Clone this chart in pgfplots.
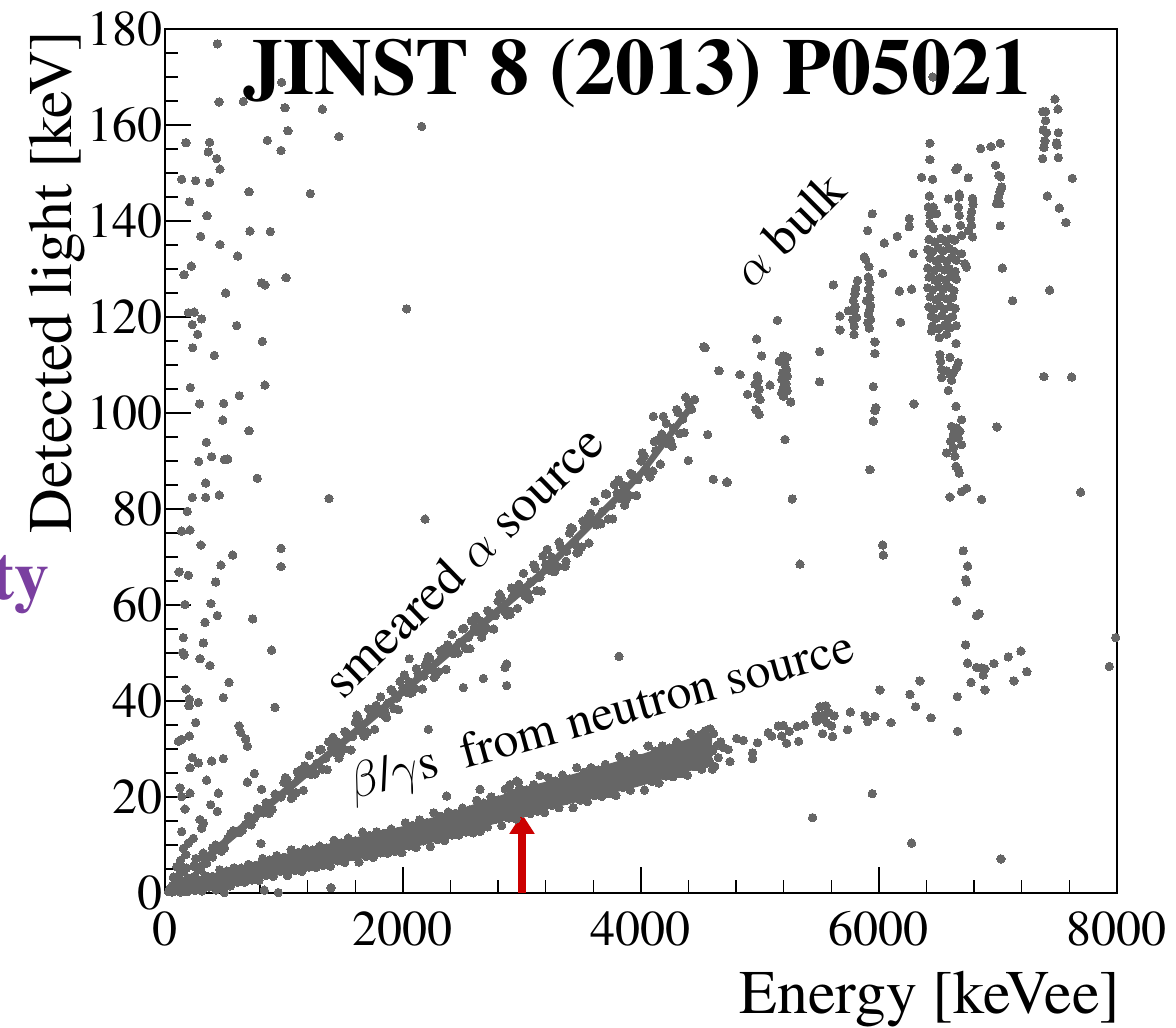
\documentclass[border=0pt]{standalone}
\usepackage{fontspec}
\IfFontExistsTF{TeX Gyre Termes}{\setmainfont{TeX Gyre Termes}}{%
  \IfFontExistsTF{texgyretermes-regular.otf}{\setmainfont{texgyretermes}[Extension=.otf, UprightFont=*-regular, BoldFont=*-bold, ItalicFont=*-italic, BoldItalicFont=*-bolditalic]}{\setmainfont{Liberation Serif}}}
\usepackage{pgfplots}
\pgfplotsset{compat=1.18}
\usetikzlibrary{arrows.meta}
\definecolor{dotgray}{RGB}{102,102,102}
\definecolor{arrred}{RGB}{204,0,0}
\definecolor{lilac}{RGB}{122,63,160}
\begin{document}
\begin{tikzpicture}
\useasboundingbox (-82.5pt,-67pt) rectangle (505.5pt,446.5pt);
\clip (-82.5pt,-67pt) rectangle (505.5pt,446.5pt);
\begin{axis}[
  at={(0pt,0pt)}, anchor=south west,
  scale only axis, width=476pt, height=432pt,
  xmin=0, xmax=8000, ymin=0, ymax=180,
  xtick={0,2000,4000,6000,8000}, ytick={0,20,...,180},
  minor x tick num=4, minor y tick num=3,
  tick pos=left, tick align=inside,
  major tick length=13pt, minor tick length=6.5pt,
  major tick style={black, line width=0.7pt},
  minor tick style={black, line width=0.7pt},
  axis line style={line width=1pt},
  tick label style={font=\fontsize{25}{25}\selectfont},
  /pgf/number format/assume math mode=true,
  /pgf/number format/1000 sep={},
  xticklabel style={anchor=north, inner sep=0pt, yshift=-9pt},
  yticklabel style={anchor=east, inner sep=0pt, xshift=-1pt},
]
% dense core of the beta/gamma band
\addplot[draw=dotgray, fill=dotgray, line width=2pt, line join=round] coordinates {
(40,1.04) (300,2.91) (700,5.67) (1000,7.65) (1500,10.58) (2000,13.5) (2400,16.42) (3000,21.4) (3500,24.83) (4000,28.45) (4500,32.5) (4580,32.7)
(4580,27.6) (4500,26.5) (4000,22.75) (3500,19.58) (3000,16.6) (2400,11.98) (2000,9.3) (1500,6.83) (1000,4.35) (700,2.73) (300,0.69) (40,0.1)};
% dense core of the smeared alpha band
\addplot[draw=dotgray, fill=dotgray, line width=1.5pt, line join=round] coordinates {
(300,6.9) (1000,21.6) (2000,42.6) (3150,66.8) (3990,87.7) (4430,102.2)
(4430,101.0) (3990,86.5) (3150,65.6) (2000,41.4) (1000,20.4) (300,5.7)};
% all events
\addplot[only marks, mark=*, mark size=2.1pt, mark options={draw=dotgray, fill=dotgray, line width=0pt}] coordinates {
(440,176.9) (980,168.9) (454,164.8) (658,164.9) (1008,163.6) (1322,163.3) (2157,159.7) (1033,158.8) (860,156.8) (1462,157.6) (176,156.3) (375,156.4) (364,154.4) (975,154.7) (434,153) (462,150.8) (140,148.7) (258,148.4) (375,148) (706,146.1) (1221,145.7) (207,144) (353,141.1) (714,137.9) (885,137.8) (300,136.8) (462,135.1) (611,132.7) (221,130.6) (160,128.8) (1017,128.2) (812,127.1) (840,126.7) (510,125) (2031,121.7) (196,120.9) (246,121) (308,119.6) (229,118.4) (602,118.2) (275,116.4) (818,114.9) (233,113.6) (414,112) (213,105.3) (840,105.8) (624,103.6) (291,101.9) (493,102) (485,98.5) (706,96.3) (347,93.9) (392,90.9) (283,89.9) (498,90.3) (527,90.4)
(775,86.4) (342,85.4) (229,82.4) (342,82.4) (456,82.9) (1378,82.2) (2185,77.9) (187,79.5) (140,75.4) (210,75.6) (302,72.5) (569,70.4) (975,71.8) (975,68) (118,66.9) (196,66.2) (470,68.3) (426,64.8) (168,60.1) (386,60.3) (440,57.8) (336,56.4) (737,57.1) (154,53.2) (149,50.1) (160,49.6) (322,52.1) (294,48.8) (378,47.4) (896,50.6) (176,42.5) (204,40.4) (202,39) (538,43.9) (490,40.7) (280,39.7) (924,38.7) (258,35.5) (622,34.8) (636,33.5) (678,32.1) (692,30.6) (140,32) (112,31.6) (204,32.7) (229,28.2) (392,27.5) (490,28) (210,26.1) (280,27.1) (751,24.9) (692,23.1) (350,23.5) (126,21.9) (210,20.8) (448,20.8) (140,20.1) (384,18.4) (440,17) (168,17.5) (294,15.3) (140,12.8) (238,11.4) (196,10.4) (154,9.3) (176,8) (126,6.2) (308,13.5) (322,14.6) (834,0.6) (952,0.1) (1395,1.1) (498,0.1) (2213,34.1) (2507,42.8) (2053,48.8) (2185,47.4) (812,21.6) (806,10.3) (2647,12.8) (2955,23.3)
(3815,49.3) (2871,43.2) (2675,44.7) (2871,47.7) (2857,47) (4397,90.1) (4607,86.2) (4720,85.6) (4560,95.5) (4538,113.6) (4655,108.8) (4832,108) (4103,99.3) (4187,99.3) (2899,58) (3025,61.9) (3370,69.1)
(3151,24.5) (2969,23.1) (2367,20.2) (2647,21.6) (2899,22.6)
(40,0.8) (60,1.5) (80,0.5) (90,2.5) (110,1.0) (120,3.8) (150,4.5) (160,0.4) (180,5.2) (200,2) (220,0.8) (250,3.5) (280,1.5) (300,4.8) (340,2.3) (350,6.2) (400,7.5) (130,6.8) (70,3.3) (100,5.5) (60,0.2) (30,0.3) (140,2.2) (190,3.2) (240,5.6) (260,7.2) (320,8.3)
(250,5.75) (300,5.55) (350,7.5) (400,9.4) (450,9.05) (500,9.4) (550,12.3) (600,12.6) (650,13.05) (700,15.95) (750,15.6) (800,17.2) (850,18.85) (900,17.4) (950,20.25) (1000,23.0) (1050,21.25) (1100,20.9) (1150,25.65) (1200,25.2) (1250,25.05) (1300,29.8) (1350,28.05) (1400,30.2) (1450,31.45) (1500,30.0) (1550,32.85) (1600,35.6) (1650,33.85) (1700,33.5) (1750,38.25) (1800,37.8) (1850,37.65) (1900,42.4) (1950,40.65) (2000,42.8) (2050,44.05) (2100,42.6) (2150,45.45) (2200,48.2) (2250,46.45) (2300,46.1) (2350,50.85) (2400,50.4) (2450,50.25) (2500,55.0) (2550,53.25) (2600,55.4) (2650,56.65) (2700,55.2) (2750,58.05) (2800,60.8) (2850,59.05) (2900,58.7) (2950,63.45) (3000,63.0) (3050,62.5) (3100,68.35) (3150,65.8) (3200,68.5) (3250,70.0) (3300,68.0) (3350,71.6) (3400,75.0) (3450,72.6) (3500,72.05) (3550,78.1) (3600,77.4) (3650,77.1) (3700,83.15) (3750,80.75) (3800,83.4) (3850,84.95) (3900,82.9) (3950,86.5) (4000,90.0) (4050,88.05) (4100,87.9) (4150,94.4) (4200,94.1) (4250,94.2) (4300,100.7) (4350,98.7) (4400,101.8) (4450,102.8)
(275,4.9) (325,7.4) (375,7.6) (425,10.0) (475,8.7) (525,11.3) (575,13.0) (625,12.6) (675,14.3) (725,14.2) (775,17.6) (825,16.7) (875,16.6) (925,20.6) (975,20.0) (1025,23.7) (1075,20.1) (1125,24.1) (1175,26.5) (1225,24.7) (1275,27.0) (1325,25.8) (1375,31.5) (1425,29.3) (1475,29.2) (1525,33.2) (1575,32.6) (1625,36.3) (1675,32.7) (1725,36.7) (1775,39.1) (1825,37.3) (1875,39.6) (1925,38.4) (1975,44.1) (2025,41.9) (2075,41.8) (2125,45.8) (2175,45.2) (2225,48.9) (2275,45.3) (2325,49.3) (2375,51.7) (2425,49.9) (2475,52.2) (2525,51.0) (2575,56.7) (2625,54.5) (2675,54.4) (2725,58.4) (2775,57.8) (2825,61.5) (2875,57.9) (2925,61.9) (2975,64.3) (3025,62.2) (3075,64.8) (3125,63.0) (3175,70.2) (3225,67.3) (3275,67.0) (3325,72.1) (3375,71.2) (3425,75.9) (3475,71.0) (3525,76.2) (3575,79.1) (3625,76.7) (3675,79.5) (3725,77.9) (3775,85.1) (3825,82.2) (3875,81.9) (3925,87.1) (3975,86.1) (4025,91.1) (4075,86.7) (4125,92.2) (4175,95.6) (4225,93.6) (4275,96.9) (4325,95.7) (4375,103.3) (4425,100.8)
(1012,24.05) (1062,19.7) (1112,25.25) (1162,21.4) (1212,28.65) (1262,24.8) (1312,29.95) (1362,25.7) (1412,32.45) (1462,28.1) (1512,33.65) (1562,29.8) (1612,37.05) (1662,33.2) (1712,38.35) (1762,34.1) (1812,40.85) (1862,36.5) (1912,42.05) (1962,38.2) (2012,45.45) (2062,41.6) (2112,46.75) (2162,42.5) (2212,49.25) (2262,44.9) (2312,50.45) (2362,46.6) (2412,53.85) (2462,50.0) (2512,55.15) (2562,50.9) (2612,57.65) (2662,53.3) (2712,58.85) (2762,55.0) (2812,62.25) (2862,58.4) (2912,63.55) (2962,59.3) (3012,66.6) (3062,61.2) (3112,67.6) (3162,62.9) (3212,71.6) (3262,66.95) (3312,73.1) (3362,68.0) (3412,76.1) (3462,70.85) (3512,77.5) (3562,72.9) (3612,81.55) (3662,76.9) (3712,83.1) (3762,77.95) (3812,86.05) (3862,80.8) (3912,87.45) (3962,82.8) (4012,91.7) (4062,87.45) (4112,94.05) (4162,89.35) (4212,97.85) (4262,93.05) (4312,100.1) (4362,95.9)
(100,1.6) (160,1.7) (220,2.8) (280,2.77) (340,3.58) (400,3.47) (460,4.85) (520,4.58) (580,5.25) (640,5.18) (700,5.96) (760,5.77) (820,7.18) (880,6.86) (940,7.79) (1000,7.43) (1060,9.01) (1120,8.47) (1180,9.16) (1240,8.94) (1300,9.76) (1360,9.39) (1420,10.97) (1480,10.46) (1540,11.44) (1600,10.9) (1660,12.68) (1720,11.99) (1780,12.75) (1840,12.43) (1900,13.33) (1960,12.85) (2020,14.63) (2080,14.08) (2140,15.24) (2200,14.67) (2260,16.7) (2320,15.98) (2380,16.86) (2440,16.61) (2500,17.7) (2560,17.29) (2620,19.32) (2680,18.74) (2740,20.02) (2800,19.43) (2860,21.65) (2920,20.9) (2980,21.87) (3040,21.51) (3100,22.57) (3160,22.0) (3220,24.07) (3280,23.32) (3340,24.58) (3400,23.8) (3460,26.12) (3520,25.15) (3580,26.11) (3640,25.66) (3700,26.82) (3760,26.17) (3820,28.44) (3880,27.58) (3940,28.95) (4000,28.07) (4060,30.65) (4120,29.61) (4180,30.67) (4240,30.19) (4300,31.45) (4360,30.76) (4420,33.21) (4480,32.31) (4540,33.8)
(130,0.2) (190,0.3) (250,0.52) (310,0.44) (370,1.27) (430,0.64) (490,1.52) (550,1.46) (610,2.24) (670,2.27) (730,2.7) (790,2.61) (850,3.64) (910,3.44) (970,4.51) (1030,3.61) (1090,4.69) (1150,4.52) (1210,5.38) (1270,5.34) (1330,5.74) (1390,5.56) (1450,6.7) (1510,6.37) (1570,7.56) (1630,6.43) (1690,7.64) (1750,7.4) (1810,8.35) (1870,8.25) (1930,8.67) (1990,8.42) (2050,9.78) (2110,9.47) (2170,10.87) (2230,9.69) (2290,11.09) (2350,10.91) (2410,12.06) (2470,12.07) (2530,12.68) (2590,12.53) (2650,14.06) (2710,13.75) (2770,15.29) (2830,14.04) (2890,15.59) (2950,15.42) (3010,16.66) (3070,16.53) (3130,17.04) (3190,16.73) (3250,18.26) (3310,17.76) (3370,19.32) (3430,17.77) (3490,19.35) (3550,19.01) (3610,20.27) (3670,20.12) (3730,20.67) (3790,20.32) (3850,21.98) (3910,21.43) (3970,23.13) (4030,21.45) (4090,23.24) (4150,22.92) (4210,24.34) (4270,24.21) (4330,24.85) (4390,24.51) (4450,26.35) (4510,25.81) (4570,27.65)
(4500,33) (4520,30.5) (4540,28.5) (4560,31.8) (4580,27.2) (4600,29.6) (4610,33.2) (4620,26.4) (4640,30.8) (4650,28.2) (4580,34.2) (4670,31.5) (4530,26.8) (4600,25.8)
(4804,32.2) (4860,31.8) (4691,30.3) (4733,29.9) (4748,27.4) (4938,29.2) (4938,28) (4980,31.3) (5069,33.4) (5098,32.7) (5154,34.8) (5196,34.9) (5182,32.7) (5224,31.2) (5246,33.7) (5313,34.7) (5325,31.6) (5372,35) (5476,35.8) (5504,38.8) (5554,39) (5532,36.2) (5560,35.5) (5526,33.2) (5610,32.6) (5602,34.8) (5624,36.9) (5736,34) (5759,37.7) (5882,37) (5905,35.7) (5966,36.8) (5470,36.8) (5490,37) (5520,36.5) (5545,37.2) (5580,37.6)
(6031,72.5) (6036,70.4) (5336,68.5) (6708,71.3) (6745,68.1) (6728,65.3) (6736,64.8) (6652,60.8) (6820,57.8) (6842,58.2) (6728,51.7) (6745,47.9) (6820,47) (6862,46.9) (6890,46.7) (6876,45.4) (6890,42.3) (6773,43.9) (6658,40.9) (6661,33.7) (6966,47.8) (7086,49.2) (7193,50.4) (7243,46.1) (7134,44.2) (7989,53.2) (7935,47.2) (6008,42.3) (6344,44.2) (6260,41.4) (6308,38.8) (6437,36.5) (6101,35.5) (5943,20.7) (6274,10.4) (7025,7.1) (5442,15.7)
(6428,156.2) (6428,152.8) (6358,149.1) (6451,148.7) (6647,150.7) (6661,151.1) (6750,149) (6423,145.2) (6584,144.6) (6674,145.6) (6674,145) (6786,144.7) (6791,143.5) (6778,141.9) (6770,140.5) (6778,139.1) (6666,142.9) (6674,141.2) (6686,139.1) (6414,142.9) (6456,142.9) (6428,141.2) (6484,141.5) (6428,139.4) (6456,138.4) (6568,138.4) (6638,136) (6694,137) (6750,138) (6786,136.7) (6694,133.2) (6722,131.1) (6736,130.4) (6442,117.1) (6506,115.7) (6568,116.4) (6647,114.5) (6512,112.2) (6518,110.8) (6596,111.6) (6666,110.5) (6526,109.1) (6568,108.8) (6596,108.1) (6624,108.4) (6652,109.5) (6526,107.4) (6610,106.8) (6582,104.7) (6647,101.4) (6694,98.6) (6610,97.2) (6652,96.9) (6680,96.2) (6624,95.5) (6666,94.8) (6602,94.1) (6694,93.4) (6624,92.7) (6568,91.7) (6638,91) (6647,88.9) (6666,88.2) (6674,87.5) (6736,84.3) (6694,83.6) (6596,82.5) (6862,82) (6294,101.9) (6182,118.9) (6171,125.4) (6274,125.8) (6288,133.2) (6254,140.5) (6254,138.8) (6153,136.8) (6044,135.4) (6031,129.1) (5943,141.5) (5905,138) (5876,132.5) (5888,132)
(6420,136.2) (6470,135.6) (6520,136.4) (6560,135.8) (6600,136.3) (6410,134.1) (6450,133.6) (6500,134.4) (6540,133.8) (6590,134.3) (6630,133.7) (6430,132.3) (6480,131.7) (6520,132.2) (6570,131.6) (6610,132.4) (6650,131.8) (6410,130.2) (6460,129.6) (6500,130.4) (6550,129.8) (6590,130.1) (6640,129.5) (6420,128.3) (6470,127.7) (6510,128.1) (6560,127.6) (6600,128.4) (6650,127.9) (6410,126.1) (6450,125.6) (6500,126.3) (6540,125.8) (6590,126.2) (6630,125.5) (6430,124.2) (6480,123.6) (6520,124.3) (6570,123.8) (6620,124.1) (6420,122.1) (6460,121.7) (6510,122.4) (6550,121.6) (6600,122.2) (6640,121.8) (6440,120.2) (6480,119.7) (6530,120.3) (6580,119.6) (6620,120.1) (6450,118.1) (6500,117.6) (6550,118.3) (6600,117.8) (6650,118.2)
(5820,127.6) (5910,128.3) (5924,127.2) (5798,124.8) (5910,125.8) (5924,124.1) (5784,123.4) (5896,123.4) (5930,122.4) (5742,121.3) (5790,121.3) (5812,119.9) (5910,120.6) (5930,119.5) (5672,120.2) (5792,118.1) (5918,117.7) (5672,117.3) (5790,116.4) (5805,126) (5915,130.5) (5800,122.2) (5905,118.8) (5780,119.4) (5920,121.5)
(5966,114.8) (5966,112.4) (5952,105.5) (5974,101.1) (5966,100.5) (5952,98.3) (5924,88.2) (5616,126.7) (5501,112.8) (5501,106.5) (5271,82.1) (4725,85.6) (5210,94.5) (4529,113.8)
(4972,115.4) (5014,111.9) (4977,107.7) (4985,106.7) (4958,106) (4994,104.9) (4977,103.9) (5000,102.8) (4966,100.7) (4994,99.7) (4896,103.9) (5084,105.8) (5146,119.3)
(5196,111.9) (5229,111.6) (5162,110.8) (5210,110.1) (5224,109.1) (5190,108.4) (5229,107.7) (5182,107) (5218,106.1) (5196,105.3) (5182,104.2) (5229,104.6) (5196,103.5) (5258,102.3)
(7478,165.4) (7375,162.8) (7400,162.8) (7504,163.3) (7400,160.9) (7380,159) (7408,158.4) (7507,158.4) (7394,156.7) (7492,156.3) (7497,155.8) (7386,155.3) (7375,153) (7507,153.2) (7624,148.9) (7414,145.2) (7515,142.7) (7571,139.7) (7036,130.2) (7123,123.4) (7434,125.6) (7386,107.6) (7619,107.5) (6991,97.1) (7694,83.5) (6854,155.1) (6941,155.5) (7019,156.2) (6980,151.6) (7008,149.5) (7022,149.2) (7031,147.1) (7016,146.1) (7002,145) (6988,143.6) (7016,143.6) (7019,139)
(6453,170) (6680,167.5)
};
\draw[arrred, line width=3.8pt, -{Triangle[width=12pt, length=10pt]}] (axis cs:3000,0) -- (axis cs:3000,16.5);
\end{axis}
\node[font=\fontsize{40}{40}\selectfont\bfseries, anchor=base, inner sep=0pt] at (236.25pt,399pt) {JINST 8 (2013) P05021};
\node[font=\fontsize{31}{31}\selectfont, anchor=base east, inner sep=0pt] at (478pt,-60pt) {Energy [keVee]};
\node[font=\fontsize{31}{31}\selectfont, rotate=90, anchor=base east, inner sep=0pt] at (-46.5pt,431.5pt) {Detected light [keV]};
\node[font=\fontsize{26}{26}\selectfont, rotate=44, anchor=base west, inner sep=0pt] at (89pt,96pt) {smeared $\alpha$ source};
\node[font=\fontsize{25}{25}\selectfont, rotate=15.5, anchor=base west, inner sep=0pt] at (94pt,46.5pt) {$\beta$/$\gamma$s\ \ from neutron source};
\node[font=\fontsize{26}{26}\selectfont, rotate=45, anchor=base west, inner sep=0pt] at (293.5pt,301.5pt) {$\alpha$ bulk};
\node[font=\fontsize{35}{35}\selectfont\bfseries, text=lilac, anchor=base east, inner sep=0pt] at (-57.5pt,146.5pt) {ty};
\end{tikzpicture}
\end{document}
